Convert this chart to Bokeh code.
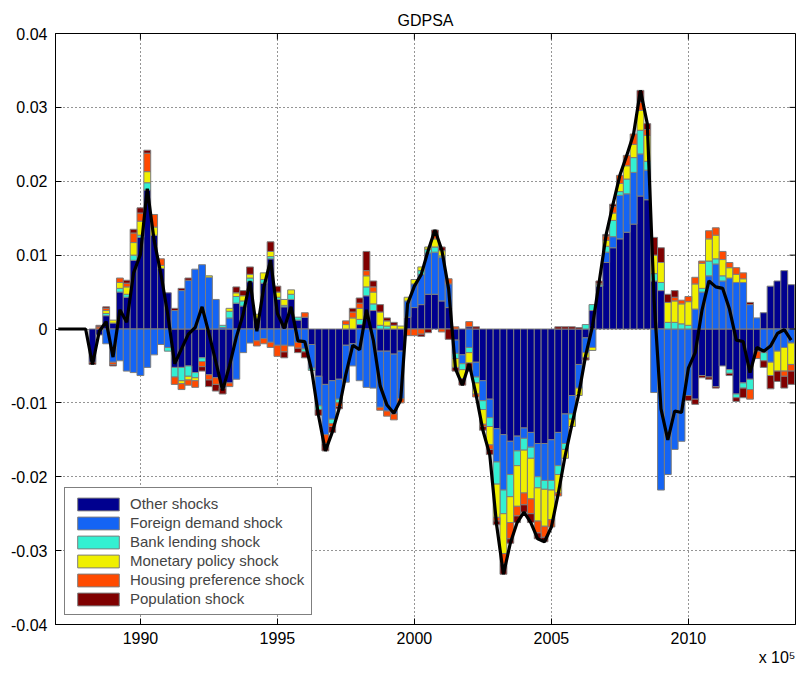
import numpy as np
from bokeh.plotting import figure
from bokeh.models import (ColumnDataSource, Range1d, FixedTicker, Legend, LegendItem, Title)
from bokeh.embed import file_html
from bokeh.resources import INLINE

# ---------------- data (quarterly, 1987Q1 .. 2013Q4) ----------------
start_year = 1987
n_quarters = 108

# Other shocks
other = [
    0, 0, 0, 0,                                   # 1987
    0, -0.0045, -0.0008, 0.0018,                  # 1988
    0.0008, 0.0050, 0.0043, 0.0093,               # 1989
    0.0124, 0.0188, 0.0127, 0.0082,               # 1990
    0.0049, -0.0052, -0.0052, -0.0050,            # 1991
    -0.0059, -0.0039, -0.0062, -0.0066,           # 1992
    -0.0080, -0.0073, 0.0035, 0.0031,             # 1993
    0.0064, 0.0014, 0.0062, 0.0095,               # 1994
    0.0040, 0.0030, 0.0040, 0.0012,               # 1995
    0.0016, -0.0021, -0.0064, -0.0075,            # 1996
    -0.0070, -0.0068, -0.0022, -0.0020,           # 1997
    0.0006, 0.0045, 0.0025, -0.0030,              # 1998
    -0.0030, -0.0034, -0.0030, 0.0016,            # 1999
    0.0029, 0.0033, 0.0047, 0.0047,               # 2000
    0.0038, 0.0029, -0.0015, -0.0035,             # 2001
    0.0003, -0.0045, -0.0070, -0.0095,            # 2002
    -0.0135, -0.0143, -0.0152, -0.0145,           # 2003
    -0.0134, -0.0140, -0.0155, -0.0155,           # 2004
    -0.0150, -0.0140, -0.0115, -0.0090,           # 2005
    -0.0048, -0.0012, 0.0025, 0.0058,             # 2006
    0.0090, 0.0110, 0.0122, 0.0131,               # 2007
    0.0142, 0.0180, 0.0175, 0.0065,               # 2008
    0.0052, 0.0, 0.0, 0.0,                        # 2009
    0.0, -0.0095, -0.0063, -0.0065,               # 2010
    -0.0078, -0.0050, -0.0055, -0.0088,           # 2011
    -0.0073, -0.0068, -0.0030, 0.0022,            # 2012
    0.0058, 0.0065, 0.0079, 0.0060,               # 2013
]

# Foreign demand shock
foreign = [
    0, 0, 0, 0,
    0, 0, 0, -0.0020,
    -0.0045, -0.0043, -0.0057, -0.0059,
    -0.0063, -0.0052, -0.0035, -0.0021,
    -0.0025, 0.0025, 0.0052, 0.0066,
    0.0081, 0.0087, 0.0070, 0.0040,
    0.0002, 0.0015, -0.0068, -0.0032,
    -0.0019, -0.0016, -0.0013, -0.0018,
    -0.0022, -0.0022, -0.0023, -0.0018,
    -0.0027, -0.0032, -0.0040, -0.0068,
    -0.0052, -0.0027, -0.0050, -0.0030,
    -0.0070, -0.0079, -0.0080, -0.0076,
    -0.0081, -0.0081, -0.0064, 0.0022,
    0.0032, 0.0041, 0.0056, 0.0057,
    0.0059, 0.0032, -0.0018, -0.0012,
    -0.0025, -0.0020, -0.0027, -0.0025,
    -0.0045, -0.0075, -0.0045, -0.0020,
    -0.0014, -0.0020, -0.0045, -0.0050,
    -0.0055, -0.0045, -0.0040, -0.0025,
    -0.0032, -0.0020, -0.0025, 0.0,
    0.0014, 0.0015, 0.0059, 0.0052,
    0.0070, 0.0057, 0.0040, -0.0086,
    -0.0218, -0.0197, -0.0163, -0.0152,
    -0.0090, 0.0027, 0.0050, 0.0072,
    0.0088, 0.0065, 0.0069, 0.0063,
    0.0063, 0.0033, 0.0015, -0.0032,
    -0.0045, -0.0030, -0.0025, -0.0019,
]

# Bank lending shock
bank = [
    0, 0, 0, 0,
    0, 0, 0, 0.0003,
    0, 0.0005, 0.0004, 0.0007,
    0.0003, 0.0010, 0, 0,
    -0.0005, -0.0013, -0.0018, -0.0014,
    -0.0007, -0.0005, 0, 0,
    0.0003, 0.0009, 0.0009, 0.0007,
    0.0005, 0, 0.0005, 0.0003,
    0.0003, 0.0002, 0.0007, 0.0004,
    -0.0004, -0.0003, -0.0005, 0,
    -0.0006, -0.0005, 0, 0,
    0.0007, 0.0012, 0.0009, 0.0005,
    0.0004, 0, 0, 0,
    0, 0.0005, 0.0005, 0.0007,
    0.0002, 0, -0.0007, -0.0008,
    -0.0007, -0.0008, -0.0012, -0.0012,
    -0.0030, -0.0032, -0.0030, -0.0020,
    -0.0016, -0.0015, -0.0015, -0.0012,
    -0.0013, -0.0012, -0.0008, -0.0007,
    0, 0.0006, 0.0008, 0.0002,
    0.0008, 0.0022, 0.0005, 0.0020,
    0.0020, 0.0032, 0.0012, 0.0010,
    0.0011, 0.0009, 0.0009, 0.0007,
    0.0005, 0, 0.0005, 0.0020,
    0.0007, 0.0007, -0.0005, -0.0005,
    -0.0007, -0.0014, 0, -0.0011,
    0, 0, 0, 0,
]

# Monetary policy shock
monetary = [
    0, 0, 0, 0,
    0, 0, 0, 0.0004,
    0.0004, 0.0008, 0.0010, 0.0017,
    0.0019, 0.0015, 0.0011, 0.0004,
    0, 0, -0.0004, -0.0005,
    -0.0004, 0, 0.0002, 0,
    0, 0.0004, 0.0005, 0.0007,
    0.0005, 0.0006, 0.0009, 0.0007,
    0.0007, 0.0008, 0.0006, 0,
    0, 0, 0, 0,
    0, 0, 0.0006, 0.0015,
    0.0015, 0.0015, 0.0016, 0.0018,
    0.0007, 0.0005, 0.0004, 0.0005,
    0.0006, 0.0005, 0.0003, 0.0011,
    0.0007, 0, -0.0012, -0.0012,
    -0.0014, -0.0015, -0.0020, -0.0025,
    -0.0045, -0.0054, -0.0035, -0.0055,
    -0.0058, -0.0055, -0.0045, -0.0050,
    -0.0040, -0.0025, -0.0012, -0.0010,
    -0.0010, -0.0007, -0.0004, 0,
    0.0008, 0.0010, 0.0011, 0.0018,
    0.0018, 0.0027, 0.0035, 0.0025,
    0.0027, 0.0027, 0.0029, 0.0027,
    0.0032, 0.0034, 0.0034, 0.0030,
    0.0032, 0.0022, 0.0014, 0.0011,
    0.0005, 0, 0, 0,
    -0.0018, -0.0027, -0.0032, -0.0029,
]

# Housing preference shock
housing = [
    0, 0, 0, 0,
    0, 0, 0.0003, 0.0003,
    -0.0003, 0.0006, 0.0005, 0.0013,
    0.0011, 0.0025, 0.0017, 0.0009,
    0, -0.0010, -0.0008, -0.0007,
    -0.0009, -0.0007, -0.0007, -0.0009,
    0, -0.0005, 0, 0,
    0, -0.0007, -0.0007, -0.0007,
    -0.0015, -0.0009, 0, -0.0008,
    0.0006, 0, 0, -0.0012,
    -0.0004, -0.0005, 0.0005, 0.0008,
    0.0007, 0.0007, 0.0007, -0.0004,
    -0.0007, -0.0008, -0.0006, -0.0009,
    -0.0009, -0.0007, 0, 0.0007,
    -0.0004, 0.0007, 0.0003, 0,
    0.0007, -0.0004, -0.0003, -0.0006,
    -0.0005, -0.0014, -0.0022, -0.0013,
    -0.0016, -0.0020, -0.0016, -0.0015,
    -0.0010, -0.0004, 0, 0,
    0, 0, 0, 0.0002,
    0.0006, 0.0009, 0.0011, 0.0014,
    0.0014, 0.0011, 0.0008, 0,
    0, 0, 0.0005, 0.0005,
    0.0007, 0.0009, 0.0003, 0.0011,
    0.0010, 0.0011, 0.0007, 0.0009,
    0.0008, -0.0013, -0.0010, 0,
    0, 0, -0.0007, -0.0009,
]

# Population shock
population = [
    0, 0, 0, 0,
    0, -0.0003, 0.0002, 0.0002,
    -0.0002, 0, 0.0004, 0.0005,
    0.0007, 0.0004, 0, 0,
    0, 0.0003, 0.0003, 0.0003,
    0, -0.0006, -0.0009, -0.0009,
    -0.0008, 0, 0.0008, 0.0007,
    0.0010, 0, 0, 0.0013,
    0.0008, -0.0008, 0, -0.0006,
    -0.0008, 0, -0.0008, -0.0010,
    -0.0008, -0.0003, 0, 0.0005,
    0.0007, 0.0026, 0.0008, 0.0010,
    0.0004, 0.0004, 0, 0,
    0, -0.0003, -0.0005, 0.0005,
    0.0005, -0.0014, -0.0005, -0.0009,
    -0.0011, 0.0003, -0.0005, -0.0007,
    -0.0005, -0.0014, -0.0006, -0.0009,
    -0.0010, -0.0012, -0.0008, -0.0006,
    0, 0.0003, 0.0003, 0.0003,
    0.0002, -0.0003, 0, 0.0003,
    0.0002, 0.0003, 0, 0,
    0, 0.0016, 0.0008, 0.0024,
    0.0020, 0.0011, 0.0009, 0,
    -0.0007, -0.0007, -0.0003, -0.0003,
    -0.0002, 0, -0.0003, -0.0005,
    -0.0013, 0.0003, 0, -0.0009,
    -0.0018, -0.0014, -0.0016, -0.0018,
]

series_names = ["Other shocks", "Foreign demand shock", "Bank lending shock",
                "Monetary policy shock", "Housing preference shock", "Population shock"]
series_values = [other, foreign, bank, monetary, housing, population]
series_colors = ["#00008f", "#1464f4", "#33f0d2", "#f0f000", "#ff4a00", "#800000"]

y_ticks = [-0.04, -0.03, -0.02, -0.01, 0.0, 0.01, 0.02, 0.03, 0.04]
y_tick_labels = ["-0.04", "-0.03", "-0.02", "-0.01", "0", "0.01", "0.02", "0.03", "0.04"]
x_ticks = [1990, 1995, 2000, 2005, 2010]
x_tick_labels = ["1990", "1995", "2000", "2005", "2010"]

# ---------------- figure ----------------
FONT = "Liberation Sans"
x_pos = np.array([start_year + i / 4.0 for i in range(n_quarters)])
x_lo, x_hi = 1986.9, 2013.91
y_lo, y_hi = -0.04, 0.04

p = figure(width=796, height=676, output_backend="svg", toolbar_location=None,
           x_range=Range1d(x_lo, x_hi), y_range=Range1d(y_lo, y_hi),
           min_border_left=55, min_border_right=1, min_border_top=33,
           min_border_bottom=52)
p.title.text = "GDPSA"
p.title.align = "center"
p.title.text_font = FONT
p.title.text_font_size = "16px"
p.title.text_font_style = "normal"
p.title.text_color = "black"
p.title.standoff = 9
p.outline_line_color = "black"
p.outline_line_width = 1
p.background_fill_color = "white"
p.border_fill_color = "white"

pos_base = np.zeros(n_quarters)
neg_base = np.zeros(n_quarters)
renderers = []
for name, vals, col in zip(series_names, series_values, series_colors):
    v = np.array(vals, dtype=float)
    xs, tops, bots = [], [], []
    for i in range(n_quarters):
        if v[i] > 0:
            xs.append(x_pos[i]); bots.append(pos_base[i]); tops.append(pos_base[i] + v[i])
            pos_base[i] += v[i]
        elif v[i] < 0:
            xs.append(x_pos[i]); tops.append(neg_base[i]); bots.append(neg_base[i] + v[i])
            neg_base[i] += v[i]
    src = ColumnDataSource(dict(x=xs, top=tops, bottom=bots))
    r = p.vbar(x="x", top="top", bottom="bottom", width=0.25, source=src,
               fill_color=col, line_color="#7d7d7d", line_width=1)
    renderers.append((name, r))

total = np.sum(np.array(series_values, dtype=float), axis=0)
p.line(x_pos, total, line_width=3.2, line_color="black")

# axes
for ax in (p.xaxis[0], p.yaxis[0]):
    ax.axis_line_color = "black"
    ax.major_tick_in = 6
    ax.major_tick_out = 0
    ax.minor_tick_line_color = None
    ax.major_label_text_font = FONT
    ax.major_label_text_font_size = "16px"
    ax.major_label_text_color = "black"
    ax.major_tick_line_color = "black"

p.xaxis.ticker = FixedTicker(ticks=x_ticks)
p.xaxis.major_label_overrides = {t: l for t, l in zip(x_ticks, x_tick_labels)}
p.yaxis.ticker = FixedTicker(ticks=y_ticks)
p.yaxis.major_label_overrides = {t: l for t, l in zip(y_ticks, y_tick_labels)}
p.xaxis.major_label_standoff = 7
p.yaxis.major_label_standoff = 8

# inward tick marks on the top and right edges of the box
p.scatter(x=x_ticks, y=[y_hi] * len(x_ticks), marker="dash", angle=np.pi / 2,
          size=12, line_color="black", line_width=1)
p.scatter(x=[x_hi] * len(y_ticks), y=y_ticks, marker="dash", angle=0,
          size=12, line_color="black", line_width=1)

# grid
for g in (p.xgrid[0], p.ygrid[0]):
    g.grid_line_color = "#2a2a2a"
    g.grid_line_dash = "1 3"
    g.grid_line_width = 1
p.xgrid.ticker = FixedTicker(ticks=x_ticks)
p.ygrid.ticker = FixedTicker(ticks=y_ticks)

# legend
legend = Legend(items=[LegendItem(label=n, renderers=[r]) for n, r in renderers],
                location="bottom_left", margin=9, padding=7, spacing=2,
                glyph_width=52, glyph_height=16, label_height=16,
                label_standoff=6, label_text_font=FONT, label_text_font_size="15px",
                border_line_color="black", border_line_width=1,
                background_fill_color="white", background_fill_alpha=1.0)
p.add_layout(legend)

# exponent note of the date axis
p.add_layout(Title(text="x 10\u2075", align="right", text_font=FONT,
                   text_font_size="16px", text_font_style="normal",
                   text_color="black", standoff=0), "below")

open("out.html", "w").write(file_html(p, INLINE))
